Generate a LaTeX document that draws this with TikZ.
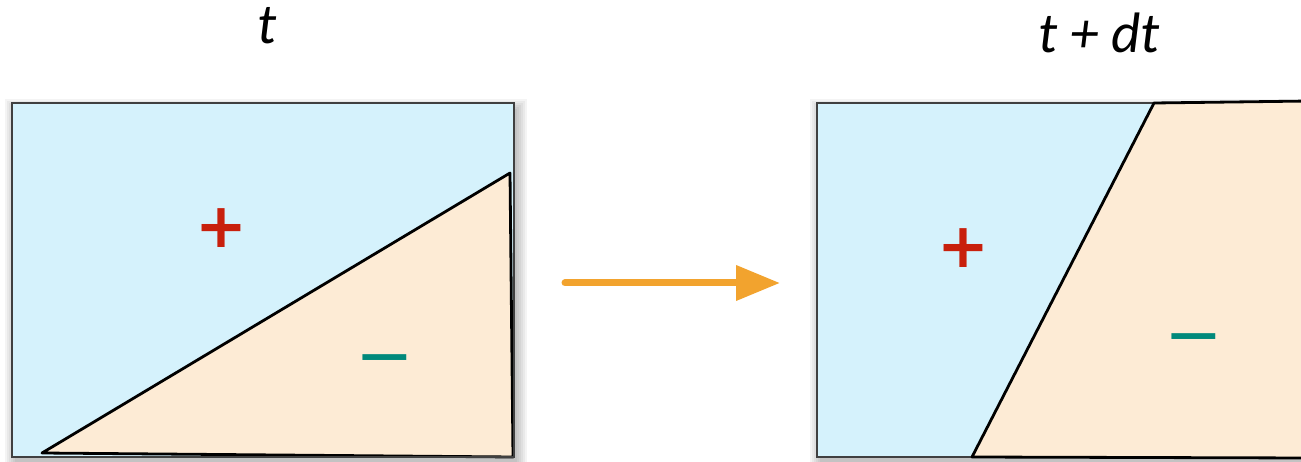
\documentclass[tikz,border=0pt]{standalone}
\usepackage{fontspec}
\setmainfont{Carlito}
\newfontfamily\signfont{DejaVu Sans}
\usetikzlibrary{arrows.meta}
\definecolor{plusblue}{HTML}{D5F2FC}
\definecolor{minusorange}{HTML}{FDEBD5}
\definecolor{plusred}{HTML}{C8200C}
\definecolor{minusteal}{HTML}{00897B}
\definecolor{flowarrow}{HTML}{F2A32E}
\tikzset{
  title/.style={font=\fontsize{57}{57}\selectfont\itshape, inner sep=0pt, anchor=base},
  plussign/.style={font=\signfont\bfseries\fontsize{62}{62}\selectfont, text=plusred, inner sep=0pt},
  minussign/.style={font=\signfont\fontsize{70}{70}\selectfont, text=minusteal, inner sep=0pt},
  interface/.style={line width=2.8pt, line join=round},
}
\begin{document}
\begin{tikzpicture}[x=1pt,y=-1pt]
  \useasboundingbox (0,0) rectangle (1301,462);
  % soft shadows behind the two boxes
  \foreach \k in {0,2,...,10} {
    \fill[black, opacity=0.045] (12-\k+3,103-\k+6) rectangle (514+\k+3,457+\k+6);
    \fill[black, opacity=0.045] (817-\k+3,103-\k+6) rectangle (1320,457+\k+6);
  }
  % time t
  \node[title] (tnow) at (267,44) {t};
  \fill[plusblue] (12,103) rectangle (514,457);
  \draw[interface, fill=minusorange] (42,453) -- (510,173) -- (513,457) -- cycle;
  \draw[line width=1.2pt, black!75] (12,103) rectangle (514,457);
  \node[plussign] (plusnow) at (221,228) {+};
  \node[minussign] (minusnow) at (385,367) {−};
  % time t + dt
  \node[title] (tnext) at (1099,53) {t + dt};
  \fill[plusblue] (817,103) -- (1154,103) -- (972,457) -- (817,457) -- cycle;
  \fill[minusorange] (1154,103) -- (1310,101) -- (1310,458) -- (972,457) -- cycle;
  \draw[line width=1.2pt, black!75] (1154,103) -- (817,103) -- (817,457) -- (972,457);
  \draw[interface] (1310,101) -- (1154,103) -- (972,457) -- (1310,458);
  \node[plussign] (plusnext) at (963,248) {+};
  \node[minussign] (minusnext) at (1194,346) {−};
  % evolution arrow
  \coordinate (flowstart) at (565,283);
  \coordinate (flowend) at (780,283);
  \draw[line width=7pt, line cap=round, flowarrow, -{Triangle[length=44pt, width=34pt]}] (flowstart) -- (flowend);
\end{tikzpicture}
\end{document}
